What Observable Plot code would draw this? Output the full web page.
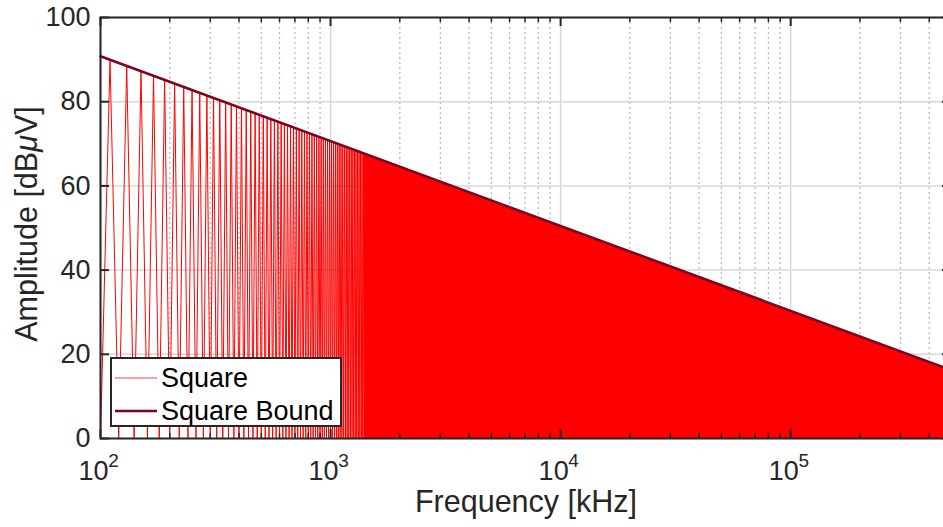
<!DOCTYPE html>
<html>
<head>
<meta charset="utf-8">
<script src="https://cdn.jsdelivr.net/npm/d3@7"></script>
<script src="https://cdn.jsdelivr.net/npm/@observablehq/plot@0.6"></script>
<style>
  html, body { margin: 0; padding: 0; background: #fff; overflow: hidden; }
  #wrap { position: relative; width: 943px; height: 527px; overflow: hidden; font-family: "Liberation Sans", Arial, sans-serif; }
  #legend { position: absolute; left: 110px; top: 357px; width: 228px; height: 66px; border: 2px solid #262626; background: #fff; }
  .row { position: absolute; left: 0; height: 30px; display: flex; align-items: center; }
  .row svg { margin-left: 3px; }
  .row span { font-size: 27px; color: #000; margin-left: 4px; white-space: nowrap; }
</style>
</head>
<body>
<div id="wrap"></div>
<script>
// ---- data ----
const xMajorTicks = [100, 1000, 10000, 100000];
const xTickExponents = ["2", "3", "4", "5"];
const xMinorTicks = [200, 300, 400, 500, 600, 700, 800, 900,
  2000, 3000, 4000, 5000, 6000, 7000, 8000, 9000,
  20000, 30000, 40000, 50000, 60000, 70000, 80000, 90000,
  200000, 300000, 400000, 500000];
const yTicks = [0, 20, 40, 60, 80, 100];

// spectral nulls (zero amplitude) between the odd harmonics, kHz
const valleyFreq = [100, 120, 140, 160, 180, 200, 220, 240, 260, 280, 300, 320, 340, 360, 380, 400,
  420, 440, 460, 480, 500, 520, 540, 560, 580, 600, 620, 640, 660, 680, 700, 720, 740, 760, 780, 800,
  820, 840, 860, 880, 900, 920, 940, 960, 980, 1000, 1020, 1040, 1060, 1080, 1100,
  1120, 1140, 1160, 1180, 1200, 1220, 1240, 1260, 1280, 1300, 1320, 1340, 1360, 1380, 1400];
// odd harmonics (kHz) and their peak amplitudes (dBµV)
const peakFreq = [110, 130, 150, 170, 190, 210, 230, 250, 270, 290, 310, 330, 350, 370, 390,
  410, 430, 450, 470, 490, 510, 530, 550, 570, 590, 610, 630, 650, 670, 690, 710, 730, 750, 770, 790,
  810, 830, 850, 870, 890, 910, 930, 950, 970, 990, 1010, 1030, 1050, 1070, 1090,
  1110, 1130, 1150, 1170, 1190, 1210, 1230, 1250, 1270, 1290, 1310, 1330, 1350, 1370, 1390];
const peakAmp = [89.97, 88.50, 87.25, 86.15, 85.18, 84.30, 83.51, 82.78, 82.10, 81.48, 80.89, 80.35,
  79.83, 79.35, 78.88, 78.45, 78.03, 77.63, 77.25, 76.89, 76.54, 76.20, 75.87, 75.56, 75.26, 74.97,
  74.69, 74.41, 74.15, 73.89, 73.64, 73.40, 73.16, 72.93, 72.70, 72.49, 72.27, 72.06, 71.86, 71.66,
  71.47, 71.28, 71.09, 70.91, 70.73, 70.55, 70.38, 70.21, 70.05, 69.89,
  69.73, 69.57, 69.42, 69.27, 69.12, 68.97, 68.83, 68.69, 68.55, 68.41, 68.28, 68.14, 68.01, 67.88, 67.76];
// above ~1.4 MHz the harmonics merge into a solid band under the bound
const denseFreq = [1400, 500000];
const denseAmp = [67.69, 16.23];
// envelope ("Square Bound")
const boundFreq = [100, 500000];
const boundAmp = [90.8, 16.23];

// ---- tables for the library ----
const spectrum = [];
valleyFreq.forEach((f, i) => {
  spectrum.push({f, a: 0});
  if (i < peakFreq.length) spectrum.push({f: peakFreq[i], a: peakAmp[i]});
});
const dense = denseFreq.map((f, i) => ({f, a: denseAmp[i]}));
const bound = boundFreq.map((f, i) => ({f, a: boundAmp[i]}));

const AX = "#262626";
const PW = 851, PH = 421; // plot area size in px (frame)

const chart = Plot.plot({
  width: 943,
  height: 527,
  marginLeft: 100,
  marginRight: -8,
  marginTop: 17,
  marginBottom: 89,
  style: { fontFamily: "'Liberation Sans', Arial, sans-serif", background: "#fff", overflow: "visible" },
  x: { type: "log", domain: [100, 500000], axis: null },
  y: { domain: [0, 100], axis: null },
  marks: [
    Plot.ruleX(xMinorTicks, { x: d => d, stroke: "#b5b5b5", strokeWidth: 1.2, strokeDasharray: "2,3" }),
    Plot.ruleX(xMajorTicks, { x: d => d, stroke: "#d8d8d8", strokeWidth: 1.5 }),
    Plot.ruleY(yTicks, { y: d => d, stroke: "#d8d8d8", strokeWidth: 1.5 }),
    Plot.areaY(dense, { x: "f", y: "a", fill: "#ff0000" }),
    Plot.line(spectrum, { x: "f", y: "a", stroke: "#ff0000", strokeWidth: 1 }),
    Plot.line(bound, { x: "f", y: "a", stroke: "#800020", strokeWidth: 2.6 }),
    Plot.frame({ stroke: AX, strokeWidth: 2 }),
    // inward ticks
    Plot.tickY(yTicks, { y: d => d, stroke: AX, strokeWidth: 2, insetRight: PW - 9 }),
    Plot.tickY(yTicks, { y: d => d, stroke: AX, strokeWidth: 2, insetLeft: PW - 9 }),
    Plot.tickX(xMajorTicks, { x: d => d, stroke: AX, strokeWidth: 2, insetTop: PH - 9 }),
    Plot.tickX(xMajorTicks, { x: d => d, stroke: AX, strokeWidth: 2, insetBottom: PH - 9 }),
    Plot.tickX(xMinorTicks, { x: d => d, stroke: AX, strokeWidth: 1.5, insetTop: PH - 5 }),
    Plot.tickX(xMinorTicks, { x: d => d, stroke: AX, strokeWidth: 1.5, insetBottom: PH - 5 }),
    // tick labels
    Plot.text(yTicks, { y: d => d, text: d => String(d), frameAnchor: "left", textAnchor: "end", dx: -10, fontSize: 27, fill: AX }),
    Plot.text(xMajorTicks, { x: d => d, text: () => "10", frameAnchor: "bottom", lineAnchor: "middle", dx: -7, dy: 33, fontSize: 27, fill: AX }),
    Plot.text(xMajorTicks, { x: d => d, text: (d, i) => xTickExponents[i], frameAnchor: "bottom", lineAnchor: "middle", dx: 13, dy: 22, fontSize: 19, fill: AX }),
    // axis titles
    Plot.text(["Frequency [kHz]"], { text: d => d, frameAnchor: "bottom", textAnchor: "middle", lineAnchor: "middle", dy: 64, fontSize: 30.5, fill: AX }),
    Plot.text(["Amplitude [dBμV]"], { text: d => d, frameAnchor: "left", textAnchor: "middle", lineAnchor: "middle", rotate: -90, dx: -73, dy: -4, fontSize: 30.5, fill: AX })
  ]
});

// italic µ as in the TeX-rendered label
chart.querySelectorAll("text").forEach(t => {
  if (t.textContent.includes("μ") && t.textContent.startsWith("Amplitude")) {
    const parts = t.textContent.split("μ");
    const host = t.querySelector("tspan") || t;
    host.textContent = "";
    host.appendChild(document.createTextNode(parts[0]));
    const mu = document.createElementNS("http://www.w3.org/2000/svg", "tspan");
    mu.setAttribute("font-style", "italic");
    mu.textContent = "μ";
    host.appendChild(mu);
    host.appendChild(document.createTextNode(parts[1]));
  }
});

const wrap = document.getElementById("wrap");
wrap.appendChild(chart);

// legend
const legend = document.createElement("div");
legend.id = "legend";
const items = [
  { label: "Square", color: "#ff4040", w: 1.2 },
  { label: "Square Bound", color: "#800020", w: 2.6 }
];
items.forEach((it, i) => {
  const row = document.createElement("div");
  row.className = "row";
  row.style.top = (4 + i * 33) + "px";
  row.innerHTML = `<svg width="42" height="30"><line x1="0" x2="42" y1="15" y2="15" stroke="${it.color}" stroke-width="${it.w}"/></svg><span>${it.label}</span>`;
  legend.appendChild(row);
});
wrap.appendChild(legend);
</script>
</body>
</html>
